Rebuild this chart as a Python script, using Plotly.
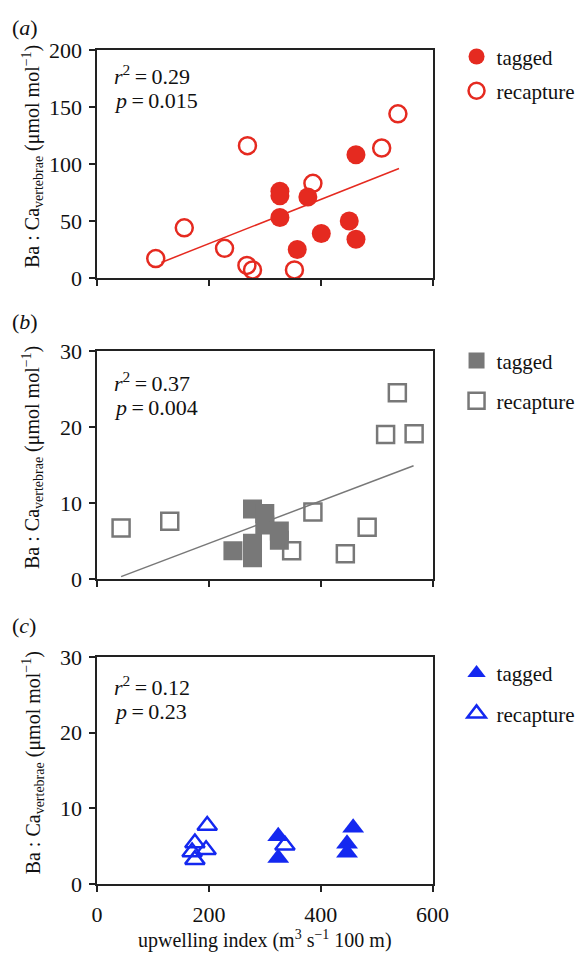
import plotly.graph_objects as go

# ---------------- data ----------------
# panel (a) Ba:Ca vs upwelling, red circles
a_tag_x = [327, 327, 327, 377, 358, 401, 451, 463, 463]
a_tag_y = [76, 72, 53, 71, 25, 39, 50, 34, 108]
a_rec_x = [105, 156, 228, 269, 268, 278, 353, 386, 509, 538]
a_rec_y = [17, 44, 26, 116, 11, 7, 7, 83, 114, 144]
a_fit_x = [115, 540]
a_fit_y = [13.6, 96]

# panel (b) gray squares
b_tag_x = [243, 278, 278, 278, 300, 300, 326, 326]
b_tag_y = [3.7, 9.2, 4.7, 2.8, 8.6, 7.1, 6.3, 5.1]
b_rec_x = [43, 130, 348, 386, 444, 483, 537, 516, 567]
b_rec_y = [6.7, 7.6, 3.7, 8.8, 3.3, 6.8, 24.5, 19.0, 19.1]
b_fit_x = [43, 566]
b_fit_y = [0.3, 14.9]

# panel (c) blue triangles
c_tag_x = [324, 324, 458, 447, 447]
c_tag_y = [6.3, 3.4, 7.4, 5.3, 4.1]
c_rec_x = [197, 175, 195, 170, 175, 336]
c_rec_y = [7.7, 5.4, 4.5, 4.2, 3.2, 5.1]

stats = [("0.29", "0.015"), ("0.37", "0.004"), ("0.12", "0.23")]
panel_letters = ["a", "b", "c"]
x_ticks = [0, 200, 400, 600]
ya_ticks = [0, 50, 100, 150, 200]
ybc_ticks = [0, 10, 20, 30]

RED = "#e52a20"
GRAY = "#787878"
BLUE = "#1428f0"
FONT = "'Liberation Serif', 'Times New Roman', Times, serif"
W, H = 581, 966

fig = go.Figure()

def add(x, y, sym, color, name, xa, ya, leg, group, size=16, lw=2.5):
    fig.add_trace(go.Scatter(
        x=x, y=y, mode="markers", name=name, xaxis=xa, yaxis=ya,
        legend=leg, legendgroup=group,
        marker=dict(symbol=sym, size=size, color=color,
                    line=dict(width=lw, color=color)),
    ))

def fit(x, y, color, xa, ya):
    fig.add_trace(go.Scatter(x=x, y=y, mode="lines", xaxis=xa, yaxis=ya,
                             line=dict(color=color, width=1.5),
                             showlegend=False, hoverinfo="skip"))

# panel a
fit(a_fit_x, a_fit_y, RED, "x", "y")
add(a_tag_x, a_tag_y, "circle", RED, "tagged", "x", "y", "legend", "a1", size=19, lw=0)
add(a_rec_x, a_rec_y, "circle-open", RED, "recapture", "x", "y", "legend", "a2", size=17)
# panel b
fit(b_fit_x, b_fit_y, GRAY, "x2", "y2")
add(b_tag_x, b_tag_y, "square", GRAY, "tagged", "x2", "y2", "legend2", "b1", size=19, lw=0)
add(b_rec_x, b_rec_y, "square-open", GRAY, "recapture", "x2", "y2", "legend2", "b2", size=17)
# panel c
add(c_tag_x, c_tag_y, "triangle-up", BLUE, "tagged", "x3", "y3", "legend3", "c1", size=19, lw=0)
add(c_rec_x, c_rec_y, "triangle-up-open", BLUE, "recapture", "x3", "y3", "legend3", "c2", size=17)

def px_y(p):
    return 1 - p / H

x_dom = [96 / W, 446 / W]
panels = [(39, 273), (348, 582), (662, 895)]

axis_common = dict(showline=True, linecolor="#222", linewidth=1.5, mirror=True,
                   ticks="outside", ticklen=6, tickwidth=1.5, tickcolor="#222",
                   showgrid=False, zeroline=False,
                   tickfont=dict(family=FONT, size=22, color="#111"))

layout = dict(width=W, height=H, margin=dict(l=0, r=0, t=0, b=0),
              paper_bgcolor="white", plot_bgcolor="white",
              font=dict(family=FONT, size=20, color="#111"))

for i, (top, bot) in enumerate(panels):
    sfx = "" if i == 0 else str(i + 1)
    xa = dict(axis_common, domain=x_dom, range=[0, 600], tickvals=x_ticks,
              anchor="y" + sfx, showticklabels=(i == 2), ticklabelstandoff=4)
    ya = dict(axis_common, domain=[px_y(bot), px_y(top)],
              range=[0, 200] if i == 0 else [0, 30],
              tickvals=ya_ticks if i == 0 else ybc_ticks,
              anchor="x" + sfx, ticklabelstandoff=3)
    layout["xaxis" + sfx] = xa
    layout["yaxis" + sfx] = ya

leg_tops = [25, 337, 658]
gaps = [4, 10, 10]
for i, (t, g) in enumerate(zip(leg_tops, gaps)):
    key = "legend" if i == 0 else "legend" + str(i + 1)
    layout[key] = dict(x=471 / W, xanchor="left", y=px_y(t), yanchor="top",
                       font=dict(family=FONT, size=21, color="#111"),
                       tracegroupgap=g, bgcolor="rgba(0,0,0,0)", itemsizing="trace")

fig.update_layout(**layout)

ytitle = "Ba : Ca<sub>vertebrae</sub> (μmol mol<sup>−1</sup>)"
xtitle = "upwelling index (m<sup>3</sup> s<sup>−1</sup> 100 m)"
TS = "\u2009"
annots = []
label_y = [16, 318, 630]
r_y = [65, 380, 692]
p_y = [91, 406, 718]
for i, (top, bot) in enumerate(panels):
    annots.append(dict(text="(<i>%s</i>)" % panel_letters[i], xref="paper", yref="paper",
                       x=5 / W, y=px_y(label_y[i]), xanchor="left", yanchor="middle",
                       showarrow=False, font=dict(family=FONT, size=22)))
    annots.append(dict(text="<i>r</i><sup>2</sup>%s=%s%s" % (TS, TS, stats[i][0]),
                       xref="paper", yref="paper",
                       x=112 / W, y=px_y(r_y[i]), xanchor="left", yanchor="middle",
                       showarrow=False, font=dict(family=FONT, size=22)))
    annots.append(dict(text="<i>p</i>%s=%s%s" % (TS, TS, stats[i][1]),
                       xref="paper", yref="paper",
                       x=112 / W, y=px_y(p_y[i]), xanchor="left", yanchor="middle",
                       showarrow=False, font=dict(family=FONT, size=22)))
    annots.append(dict(text=ytitle, textangle=-90, xref="paper", yref="paper",
                       x=29 / W, y=px_y((top + bot) / 2 - 8), xanchor="center", yanchor="middle",
                       showarrow=False, font=dict(family=FONT, size=20)))
annots.append(dict(text=xtitle, xref="paper", yref="paper",
                   x=(x_dom[0] + x_dom[1]) / 2, y=px_y(952), xanchor="center", yanchor="middle",
                   showarrow=False, font=dict(family=FONT, size=20)))
fig.update_layout(annotations=annots)

fig.write_html("out.html")
